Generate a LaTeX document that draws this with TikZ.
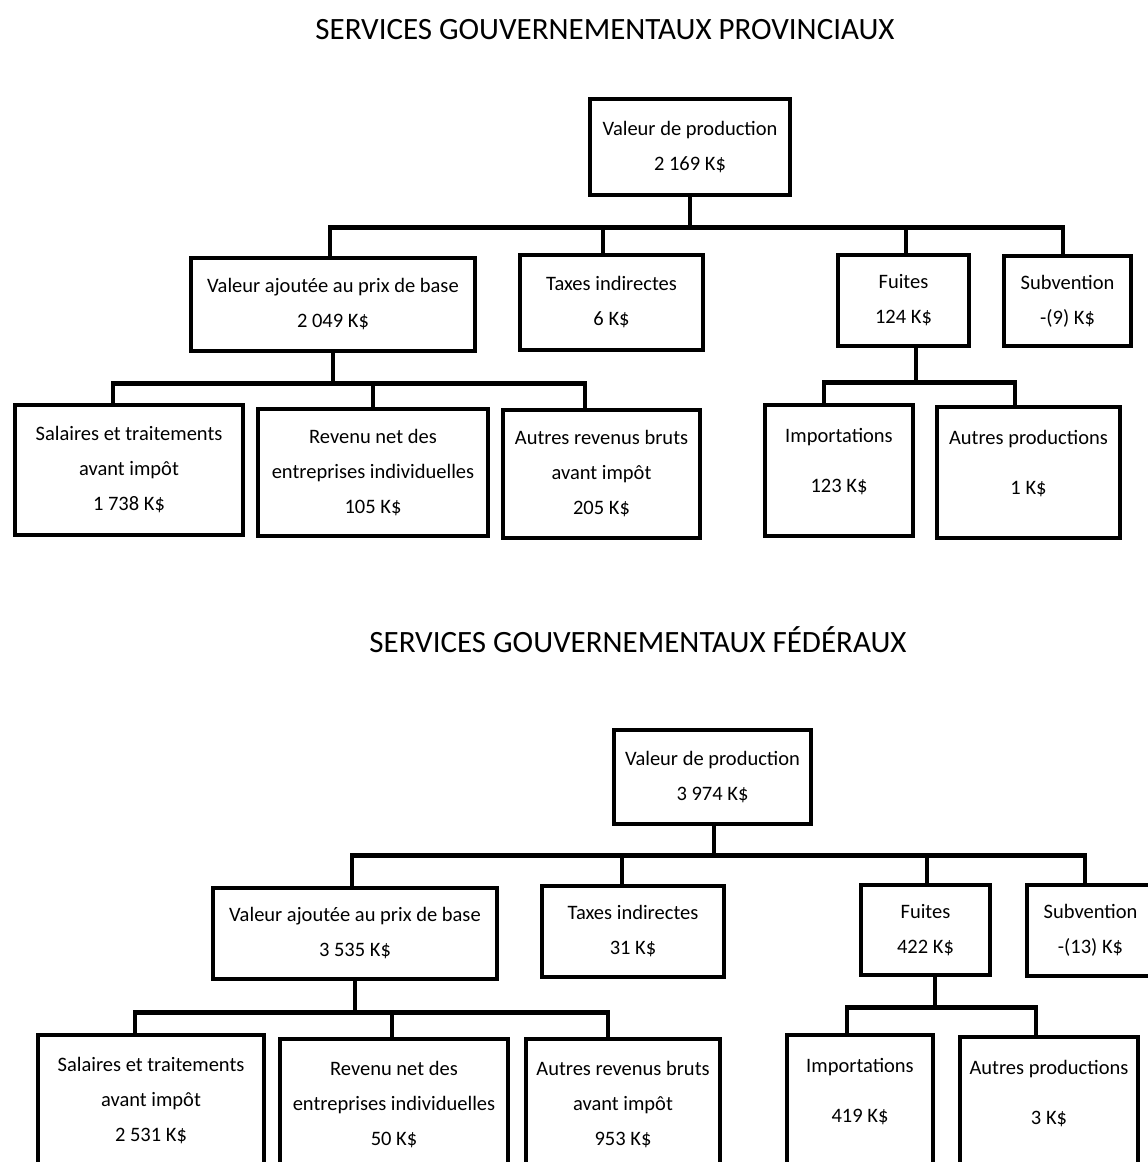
\documentclass[tikz,border=0pt]{standalone}
\usepackage{fontspec}
\setmainfont{Carlito}
\begin{document}
\begin{tikzpicture}[x=1pt,y=-1pt,
  box/.style={draw, line width=4.5pt, inner sep=0pt, align=center, font=\fontsize{20.5}{35}\selectfont},
  conn/.style={draw, line width=4.5pt},
  ttl/.style={inner sep=0pt, font=\fontsize{31}{36}\selectfont}]
\useasboundingbox (0,0) rectangle (1148,1162);
\clip (0,0) rectangle (1148,1162);
\fill[white] (0,0) rectangle (1148,1162);

% ---------- Provinciaux ----------
\node[ttl] (t1) at (605,30) {SERVICES GOUVERNEMENTAUX PROVINCIAUX};
\node[box, minimum width=200pt, minimum height=96pt] (vp1) at (690,147) {Valeur de production\\2 169 K\$};
\node[box, minimum width=284pt, minimum height=93pt] (va1) at (333,304.5) {Valeur ajoutée au prix de base\\2 049 K\$};
\node[box, minimum width=183pt, minimum height=95pt] (tx1) at (611.5,302.5) {Taxes indirectes\\6 K\$};
\node[box, minimum width=131pt, minimum height=91pt] (fu1) at (903.5,300.5) {Fuites\\124 K\$};
\node[box, minimum width=127pt, minimum height=90pt] (sb1) at (1067.5,301) {Subvention\\-(9) K\$};
\node[box, minimum width=228pt, minimum height=130pt] (sa1) at (129,470) {Salaires et traitements\\avant impôt\\1 738 K\$};
\node[box, minimum width=230pt, minimum height=127pt] (re1) at (373,472.5) {Revenu net des\\entreprises individuelles\\105 K\$};
\node[box, minimum width=197pt, minimum height=128pt] (ar1) at (601.5,474) {Autres revenus bruts\\avant impôt\\205 K\$};
\node[box, minimum width=148pt, minimum height=131pt] (im1) at (839,470.5) {Importations\\[15pt]123 K\$\\[-15pt]\mbox{}};
\node[box, minimum width=183pt, minimum height=131pt] (ap1) at (1028.5,472.5) {Autres productions\\[15pt]1 K\$\\[-15pt]\mbox{}};

\draw[conn] (vp1.south) -- ++(0,30) -| ([xshift=-3pt]va1.north);
\draw[conn] (vp1.south) -- ++(0,30) -| ([xshift=-8.5pt]tx1.north);
\draw[conn] (vp1.south) -- ++(0,30) -| ([xshift=2.5pt]fu1.north);
\draw[conn] (vp1.south) -- ++(0,30) -| ([xshift=-4.5pt]sb1.north);
\draw[conn] (va1.south) -- ++(0,30) -| ([xshift=-16pt]sa1.north);
\draw[conn] (va1.south) -- ++(0,30) -| (re1.north);
\draw[conn] (va1.south) -- ++(0,30) -| ([xshift=-16.5pt]ar1.north);
\draw[conn] ([xshift=12.5pt]fu1.south) -- ++(0,34) -| ([xshift=-15pt]im1.north);
\draw[conn] ([xshift=12.5pt]fu1.south) -- ++(0,34) -| ([xshift=-13.5pt]ap1.north);

% ---------- Federaux ----------
\node[ttl] (t2) at (638,640) {SERVICES GOUVERNEMENTAUX FÉDÉRAUX};
\node[box, minimum width=197pt, minimum height=94pt] (vp2) at (712.5,777) {Valeur de production\\3 974 K\$};
\node[box, minimum width=284pt, minimum height=91pt] (va2) at (355,933.5) {Valeur ajoutée au prix de base\\3 535 K\$};
\node[box, minimum width=182pt, minimum height=91pt] (tx2) at (633,931.5) {Taxes indirectes\\31 K\$};
\node[box, minimum width=129pt, minimum height=90pt] (fu2) at (925.5,930) {Fuites\\422 K\$};
\node[box, minimum width=127pt, minimum height=91pt] (sb2) at (1090.5,930.5) {Subvention\\-(13) K\$};
\node[box, minimum width=226pt, minimum height=131pt] (sa2) at (151,1100.5) {Salaires et traitements\\avant impôt\\2 531 K\$};
\node[box, minimum width=228pt, minimum height=131pt] (re2) at (394,1104.5) {Revenu net des\\entreprises individuelles\\50 K\$};
\node[box, minimum width=194pt, minimum height=131pt] (ar2) at (623,1104.5) {Autres revenus bruts\\avant impôt\\953 K\$};
\node[box, minimum width=146pt, minimum height=131pt] (im2) at (860,1100.5) {Importations\\[15pt]419 K\$\\[-15pt]\mbox{}};
\node[box, minimum width=178pt, minimum height=131pt] (ap2) at (1049,1102.5) {Autres productions\\[15pt]3 K\$\\[-15pt]\mbox{}};

\draw[conn] ([xshift=1.5pt]vp2.south) -- ++(0,29) -| ([xshift=-3pt]va2.north);
\draw[conn] ([xshift=1.5pt]vp2.south) -- ++(0,29) -| ([xshift=-11pt]tx2.north);
\draw[conn] ([xshift=1.5pt]vp2.south) -- ++(0,29) -| ([xshift=1.5pt]fu2.north);
\draw[conn] ([xshift=1.5pt]vp2.south) -- ++(0,29) -| ([xshift=-5.5pt]sb2.north);
\draw[conn] (va2.south) -- ++(0,31) -| ([xshift=-16pt]sa2.north);
\draw[conn] (va2.south) -- ++(0,31) -| ([xshift=-2pt]re2.north);
\draw[conn] (va2.south) -- ++(0,31) -| ([xshift=-15pt]ar2.north);
\draw[conn] ([xshift=9.5pt]fu2.south) -- ++(0,30) -| ([xshift=-13pt]im2.north);
\draw[conn] ([xshift=9.5pt]fu2.south) -- ++(0,30) -| ([xshift=-13pt]ap2.north);
\end{tikzpicture}
\end{document}
